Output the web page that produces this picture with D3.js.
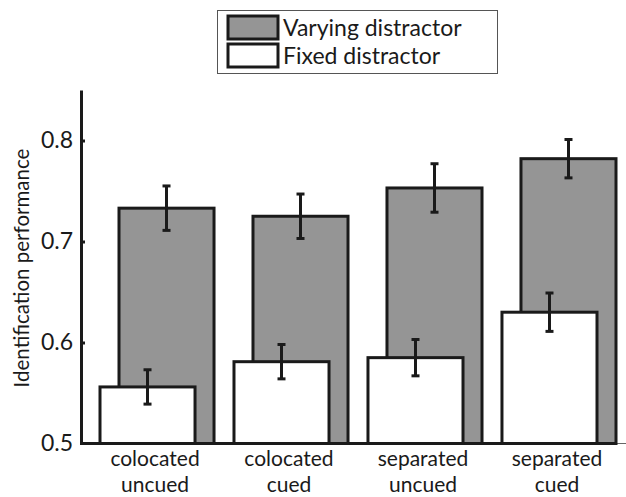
<!DOCTYPE html>
<html><head><meta charset="utf-8">
<script src="https://cdn.jsdelivr.net/npm/d3@7"></script>
<style>
body{margin:0;background:#fff;}
text{font-family:Lato,"Open Sans",sans-serif;fill:#1a1a1a;}
</style></head>
<body><svg id="c" width="626" height="497"></svg>
<script>
const categories = [["colocated","uncued"],["colocated","cued"],["separated","uncued"],["separated","cued"]];
const seriesNames = ["Varying distractor","Fixed distractor"];
const varyingValues = [0.733, 0.725, 0.753, 0.782];
const varyingErrors = [0.022, 0.022, 0.024, 0.019];
const fixedValues = [0.556, 0.581, 0.585, 0.630];
const fixedErrors = [0.017, 0.017, 0.018, 0.019];
const yTicks = [0.5, 0.6, 0.7, 0.8];

const svg = d3.select("#c");
const keys = categories.map(c => c.join(" "));
const x = d3.scaleBand().domain(keys).range([100, 616]).paddingInner(0.149).paddingOuter(0);
const off = d3.scalePoint().domain(["Fixed","Varying"]).range([0, 19]);
const bw = x.bandwidth() - 19;
const y = d3.scaleLinear().domain([0.5, 0.85]).range([443.5, 90]);

const series = [
  {name:"Varying", vals: varyingValues, errs: varyingErrors, fill:"#959595"},
  {name:"Fixed", vals: fixedValues, errs: fixedErrors, fill:"#ffffff"}
];

// baseline
svg.append("line").attr("x1", 80).attr("x2", 626).attr("y1", y(0.5)).attr("y2", y(0.5))
  .attr("stroke", "#666").attr("stroke-width", 1);
svg.append("line").attr("x1", 80).attr("x2", x(keys[3]) + x.bandwidth()).attr("y1", y(0.5)).attr("y2", y(0.5))
  .attr("stroke", "#1a1a1a").attr("stroke-width", 3);

series.forEach(s => {
  const g = svg.append("g");
  keys.forEach((k, i) => {
    const x0 = x(k) + off(s.name);
    g.append("rect").attr("x", x0).attr("y", y(s.vals[i])).attr("width", bw)
      .attr("height", y(0.5) - y(s.vals[i]))
      .attr("fill", s.fill).attr("stroke", "#1a1a1a").attr("stroke-width", 3);
    const cx = x0 + bw / 2;
    const hi = y(s.vals[i] + s.errs[i]), lo = y(s.vals[i] - s.errs[i]);
    g.append("line").attr("x1", cx).attr("x2", cx).attr("y1", hi).attr("y2", lo)
      .attr("stroke", "#1a1a1a").attr("stroke-width", 3);
    [hi, lo].forEach(yy => g.append("line").attr("x1", cx - 4).attr("x2", cx + 4)
      .attr("y1", yy).attr("y2", yy).attr("stroke", "#1a1a1a").attr("stroke-width", 3));
  });
});

// y axis
const ya = svg.append("g").attr("transform", "translate(81,0)")
  .call(d3.axisLeft(y).tickValues(yTicks).tickFormat(d3.format(".1f")).tickSizeInner(-4).tickSizeOuter(0).tickPadding(8));
ya.select(".domain").attr("stroke", "#1a1a1a").attr("stroke-width", 3);
ya.selectAll(".tick line").attr("stroke", "#1a1a1a").attr("stroke-width", 3);
ya.selectAll(".tick text").attr("font-size", 23).attr("font-family", "Lato").attr("fill", "#1a1a1a");
ya.selectAll(".tick").filter(d => d === 0.5).select("line").remove();

// y label
svg.append("text").attr("transform", "translate(29,268) rotate(-90)").attr("text-anchor", "middle")
  .attr("font-size", 20.5).text("Identification performance");

// x labels
keys.forEach((k, i) => {
  const cx = x(k) + x.bandwidth() / 2 - 2;
  svg.append("text").attr("text-anchor", "middle").attr("font-size", 21)
    .attr("x", cx).attr("y", 466).text(categories[i][0]);
  svg.append("text").attr("text-anchor", "middle").attr("font-size", 21)
    .attr("x", cx).attr("y", 491.5).text(categories[i][1]);
});

// legend
const lg = svg.append("g");
lg.append("rect").attr("x", 217.5).attr("y", 10.5).attr("width", 280).attr("height", 63)
  .attr("fill", "#fff").attr("stroke", "#555").attr("stroke-width", 1);
[["#959595", 16], ["#ffffff", 44]].forEach((d, i) => {
  lg.append("rect").attr("x", 228).attr("y", d[1]).attr("width", 50).attr("height", 23)
    .attr("fill", d[0]).attr("stroke", "#1a1a1a").attr("stroke-width", 3);
  lg.append("text").attr("x", 283).attr("y", d[1] + 20).attr("font-size", 23).text(seriesNames[i]);
});
</script></body></html>
